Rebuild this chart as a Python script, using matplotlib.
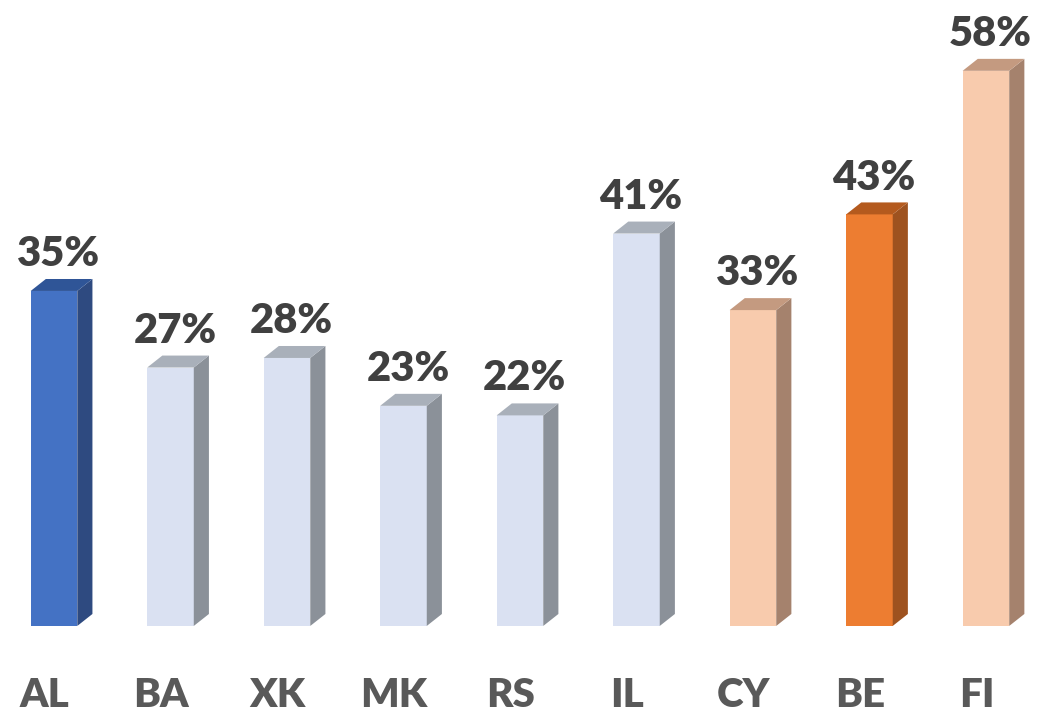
import matplotlib

matplotlib.use("Agg")
import matplotlib.pyplot as plt
from matplotlib.patches import Polygon

# Data
CATEGORIES = ["AL", "BA", "XK", "MK", "RS", "IL", "CY", "BE", "FI"]
VALUES = [35, 27, 28, 23, 22, 41, 33, 43, 58]
GROUPS = ["blue", "light", "light", "light", "light", "light", "peach", "orange", "peach"]

# face colours: front, side, top
PALETTE = {
    "blue": ("#4472C4", "#2E4A80", "#2F5597"),
    "light": ("#DAE1F2", "#8B9199", "#A9B0BA"),
    "peach": ("#F8CBAD", "#A5826D", "#C49A80"),
    "orange": ("#ED7D31", "#9E521F", "#B45A1E"),
}

plt.rcParams["font.family"] = ["Lato", "DejaVu Sans"]

BAR_W = 0.40
DX = 0.13   # depth offset (x, category units)
DY = 1.25   # depth offset (y, percent units)

fig = plt.figure(figsize=(10.43, 7.14), dpi=100)
ax = fig.add_axes([0, 0, 1, 1])
ax.set_xlim(-0.4635, 8.49)
ax.set_ylim(-9.2, 65.4)
ax.axis("off")

xs = list(range(len(CATEGORIES)))
front_cols = [PALETTE[g][0] for g in GROUPS]
ax.bar(xs, VALUES, width=BAR_W, color=front_cols, zorder=2)

for x, v, g in zip(xs, VALUES, GROUPS):
    _, side, top = PALETTE[g]
    r = x + BAR_W / 2
    l = x - BAR_W / 2
    ax.add_patch(Polygon([(r, 0), (r + DX, DY), (r + DX, v + DY), (r, v)],
                         closed=True, facecolor=side, edgecolor="none", zorder=2))
    ax.add_patch(Polygon([(l, v), (r, v), (r + DX, v + DY), (l + DX, v + DY)],
                         closed=True, facecolor=top, edgecolor="none", zorder=2))
    ax.text(x + DX * 0.3, v + DY + 1.35, f"{v}%", ha="center", va="baseline",
            fontsize=30, fontweight="heavy", color="#404040")

for x, c in zip(xs, CATEGORIES):
    ax.text(x - 0.08, -8.45, c, ha="center", va="baseline",
            fontsize=29, fontweight="heavy", color="#595959")

fig.savefig("out.png", dpi=100)
